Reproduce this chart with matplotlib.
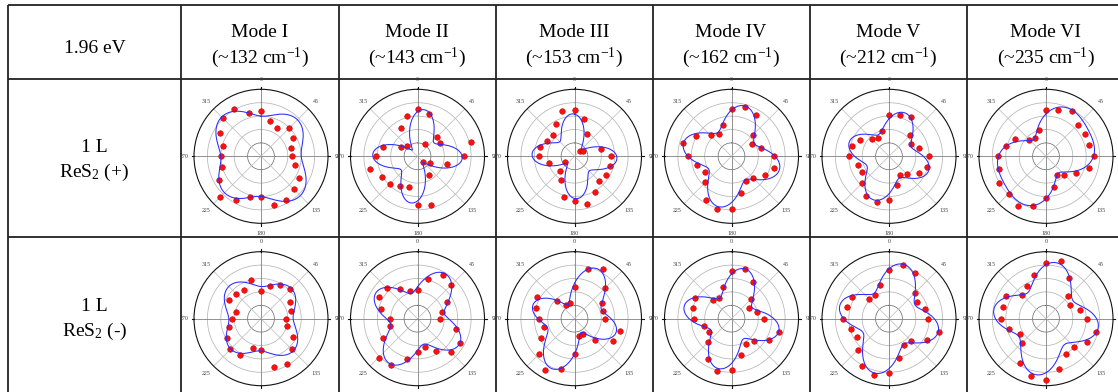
import numpy as np
import matplotlib
matplotlib.use("Agg")
import matplotlib.pyplot as plt

plt.rcParams['font.family'] = ['Liberation Serif', 'DejaVu Serif']
plt.rcParams['mathtext.fontset'] = 'custom'
plt.rcParams['mathtext.rm'] = 'Liberation Serif'
plt.rcParams['mathtext.it'] = 'Liberation Serif:italic'

energy = '1.96 eV'
modes = ['Mode I', 'Mode II', 'Mode III', 'Mode IV', 'Mode V', 'Mode VI']
shifts = [132, 143, 153, 162, 212, 235]
samples = ['ReS$_\\mathrm{2}$ (+)', 'ReS$_\\mathrm{2}$ (-)']
layer = '1 L'

# polarization angle (deg) of each measured point
angles = [0, 15, 30, 45, 60, 75, 90, 105, 120, 135, 150, 165,
          180, 195, 210, 225, 240, 255, 270, 285, 300, 315, 330, 345]

# normalized Raman intensity, 1L ReS2 (+)
pos_I = [0.67, 0.54, 0.48, 0.59, 0.56, 0.46, 0.47, 0.52, 0.66, 0.70, 0.76, 0.76,
         0.61, 0.63, 0.76, 0.86, 0.72, 0.61, 0.59, 0.58, 0.71, 0.81, 0.82, 0.67]
pos_II = [0.70, 0.66, 0.22, 0.41, 0.39, 0.82, 0.69, 0.45, 0.21, 0.11, 0.33, 0.76,
          0.72, 0.48, 0.51, 0.59, 0.61, 0.73, 0.62, 0.53, 0.28, 0.22, 0.49, 0.63]
pos_III = [0.69, 0.57, 0.38, 0.12, 0.15, 0.41, 0.54, 0.55, 0.55, 0.52, 0.61, 0.73,
           0.67, 0.63, 0.40, 0.31, 0.17, 0.39, 0.53, 0.54, 0.47, 0.46, 0.55, 0.70]
pos_IV = [0.71, 0.76, 0.72, 0.46, 0.36, 0.46, 0.63, 0.66, 0.57, 0.46, 0.42, 0.56,
          0.78, 0.82, 0.76, 0.55, 0.46, 0.53, 0.65, 0.75, 0.61, 0.44, 0.38, 0.48]
pos_V = [0.62, 0.64, 0.67, 0.45, 0.38, 0.46, 0.59, 0.59, 0.51, 0.38, 0.33, 0.44,
         0.65, 0.70, 0.68, 0.57, 0.46, 0.48, 0.59, 0.57, 0.50, 0.36, 0.32, 0.39]
pos_VI = [0.69, 0.72, 0.78, 0.67, 0.68, 0.67, 0.71, 0.66, 0.51, 0.39, 0.33, 0.47,
          0.62, 0.77, 0.85, 0.79, 0.81, 0.72, 0.72, 0.62, 0.53, 0.35, 0.32, 0.41]

# normalized Raman intensity, 1L ReS2 (-)
neg_I = [0.42, 0.50, 0.58, 0.62, 0.50, 0.46, 0.37, 0.40, 0.55, 0.65, 0.78, 0.75,
         0.46, 0.46, 0.63, 0.65, 0.59, 0.49, 0.44, 0.39, 0.56, 0.52, 0.50, 0.60]
neg_II = [0.43, 0.61, 0.76, 0.71, 0.51, 0.38, 0.34, 0.60, 0.74, 0.70, 0.55, 0.43,
          0.50, 0.62, 0.80, 0.82, 0.59, 0.43, 0.41, 0.56, 0.66, 0.65, 0.51, 0.43]
neg_III = [0.48, 0.77, 0.85, 0.64, 0.48, 0.44, 0.45, 0.70, 0.66, 0.44, 0.26, 0.26,
           0.53, 0.78, 0.88, 0.75, 0.57, 0.47, 0.53, 0.59, 0.64, 0.37, 0.24, 0.24]
neg_IV = [0.71, 0.77, 0.64, 0.41, 0.31, 0.40, 0.48, 0.74, 0.64, 0.48, 0.43, 0.56,
          0.76, 0.81, 0.70, 0.50, 0.39, 0.43, 0.56, 0.60, 0.63, 0.39, 0.36, 0.49]
neg_V = [0.72, 0.83, 0.78, 0.55, 0.49, 0.55, 0.58, 0.77, 0.65, 0.47, 0.45, 0.60,
         0.81, 0.87, 0.81, 0.66, 0.56, 0.59, 0.69, 0.65, 0.64, 0.42, 0.41, 0.52]
neg_VI = [0.83, 0.89, 0.70, 0.47, 0.42, 0.53, 0.61, 0.78, 0.71, 0.60, 0.61, 0.77,
          0.92, 0.88, 0.77, 0.51, 0.45, 0.57, 0.67, 0.67, 0.69, 0.50, 0.57, 0.67]

# fit parameters (A0, A2, phi2, A4, phi4):
# I(t) = A0 + A2 cos 2(t - phi2) + A4 cos 4(t - phi4)
fit_pos = [(0.70, 0.03, 135, 0.10, 45), (0.45, 0.10, 45, 0.23, 5),
           (0.43, 0.08, 135, 0.20, 0), (0.58, 0.02, 0, 0.18, 15),
           (0.51, 0.03, 20, 0.15, 20), (0.61, 0.22, 50, 0.08, 10)]
fit_neg = [(0.57, 0.02, 135, 0.09, 45), (0.58, 0.03, 40, 0.18, 32),
           (0.53, 0.13, 47, 0.20, 22), (0.55, 0.02, 15, 0.20, 15),
           (0.62, 0.04, 15, 0.18, 15), (0.65, 0.03, 15, 0.17, 10)]

rows = [[pos_I, pos_II, pos_III, pos_IV, pos_V, pos_VI],
        [neg_I, neg_II, neg_III, neg_IV, neg_V, neg_VI]]
fits = [fit_pos, fit_neg]

W, H = 1118, 392
fig = plt.figure(figsize=(W / 100, H / 100), dpi=100)

# table grid drawn in pixel coordinates
bg = fig.add_axes([0, 0, 1, 1])
bg.set_xlim(0, W)
bg.set_ylim(H, 0)
bg.axis('off')
col_x = [8, 181, 338.5, 495.5, 652.5, 809.5, 967]
row_y = [4.5, 78.5, 236.5]
for y in row_y:
    bg.plot([col_x[0], W], [y, y], color='#222222', lw=1.3, solid_capstyle='butt')
for x in col_x:
    bg.plot([x, x], [row_y[0], H], color='#222222', lw=1.3, solid_capstyle='butt')

fs = 14
bg.text(94.5, 53, energy, ha='center', va='baseline', fontsize=fs)
col_mid = [(col_x[i] + (col_x[i + 1] if i + 1 < len(col_x) else col_x[i] + 157)) / 2
           for i in range(1, len(col_x))]
for cx, m, s in zip(col_mid, modes, shifts):
    bg.text(cx, 37, m, ha='center', va='baseline', fontsize=fs)
    bg.text(cx, 63, '(~%d cm$^\\mathrm{-1}$)' % s, ha='center', va='baseline', fontsize=fs)

label_base = [(152, 177), (311, 336)]
for (y1, y2), s in zip(label_base, samples):
    bg.text(94.5, y1, layer, ha='center', va='baseline', fontsize=fs)
    bg.text(94.5, y2, s, ha='center', va='baseline', fontsize=fs)

# polar panels
centers_x = [261, 417.5, 574.5, 731.5, 889, 1046]
centers_y = [156.3, 318.7]
R = 67
theta = np.deg2rad(angles)
t_fit = np.linspace(0, 2 * np.pi, 721)
ring = np.linspace(0, 2 * np.pi, 361)

for ri, cy in enumerate(centers_y):
    for ci, cx in enumerate(centers_x):
        ax = fig.add_axes([(cx - R) / W, 1 - (cy + R) / H, 2 * R / W, 2 * R / H],
                          projection='polar')
        ax.set_theta_zero_location('N')
        ax.set_theta_direction(-1)
        ax.set_ylim(0, 1)
        ax.set_rgrids([0.2, 0.4, 0.6, 0.8], labels=[])
        ax.set_thetagrids(range(0, 360, 45),
                          labels=[str(a) for a in range(0, 360, 45)])
        ax.grid(False)
        ax.tick_params(axis='x', labelsize=4.3, labelcolor='#404040', pad=0.3,
                       length=0)
        ax.spines['polar'].set_color('#111111')
        ax.spines['polar'].set_linewidth(0.8)

        for rr in [0.2, 0.4, 0.6, 0.8]:
            ax.plot(ring, np.full_like(ring, rr),
                    color='#707070' if rr == 0.2 else '#b5b5b5', lw=0.55, zorder=1)
        for a in range(0, 360, 45):
            t = np.deg2rad(a)
            if a % 90 == 0:
                ax.plot([t, t], [0, 1.035], color='#808080', lw=0.6, zorder=1,
                        clip_on=False)
                ax.plot([t, t], [1.0, 1.035], color='#111111', lw=0.8, zorder=2,
                        clip_on=False)
            else:
                ax.plot([t, t], [0, 1], color='#c0c0c0', lw=0.55, zorder=1)

        a0, a2, p2, a4, p4 = fits[ri][ci]
        curve = (a0 + a2 * np.cos(2 * (t_fit - np.deg2rad(p2)))
                 + a4 * np.cos(4 * (t_fit - np.deg2rad(p4))))
        ax.plot(theta, rows[ri][ci], 'o', ms=4.0, mfc='#ff1010', mec='#c00000',
                mew=0.4, zorder=3)
        ax.plot(t_fit, curve, color='#2a2aff', lw=0.75, zorder=4)

fig.savefig('out.png', dpi=100)
